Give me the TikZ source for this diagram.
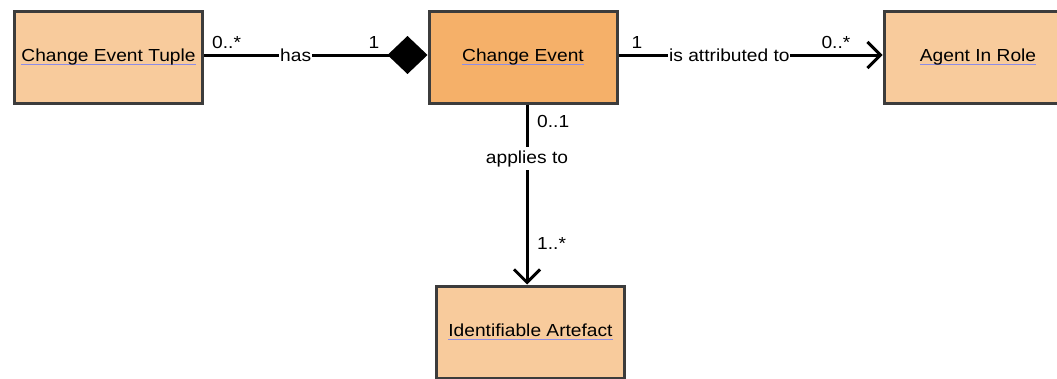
\documentclass[tikz,border=0pt]{standalone}
\usepackage{fontspec}
\setmainfont[FakeStretch=1.1]{Liberation Sans}
\usetikzlibrary{arrows.meta}
\usetikzlibrary{shapes}
\definecolor{classlight}{HTML}{F8CB9C}
\definecolor{classdark}{HTML}{F5B069}
\definecolor{classedge}{HTML}{3C3C3C}
\definecolor{ulblue}{HTML}{8C8CE6}
\newcommand{\ulname}[1]{\setbox0\hbox{#1}\rlap{\color{ulblue}\rule[-3.5bp]{\wd0}{1.3bp}}\box0}
\tikzset{
  umlclass/.style={draw=classedge,line width=3bp,fill=classlight,minimum width=188bp,minimum height=92bp,inner sep=0pt,font=\fontsize{17.5}{20}\selectfont},
  assoc/.style={draw=black,line width=3bp},
  mult/.style={inner sep=0pt,font=\fontsize{17.5}{20}\selectfont},
  rolename/.style={fill=white,inner sep=0.8bp,font=\fontsize{17.5}{20}\selectfont},
}
\begin{document}
\begin{tikzpicture}[>={Straight Barb[length=13bp,width=26bp]},line join=miter]
\useasboundingbox (0bp,0bp) rectangle (1057bp,-379bp);
\clip (0bp,0bp) rectangle (1057bp,-379bp);
%%
\node (tuple) at (108.5bp,-57bp) [umlclass] {\ulname{Change Event Tuple}};
  \node (event) at (523bp,-57bp) [umlclass,fill=classdark] {\ulname{Change Event}};
  \node (agent) at (978bp,-57bp) [umlclass] {\ulname{Agent In Role}};
  \node (artefact) at (530.5bp,-332bp) [umlclass] {\ulname{Identifiable Artefact}};
  \draw [assoc,-{Turned Square[length=40bp,width=38bp]}] ([yshift=2bp]tuple.east) -- node[rolename,pos=0.41] {has} ([yshift=2bp]event.west);
  \draw [assoc,->] ([yshift=2bp]event.east) -- node[rolename,pos=0.42] {is attributed to} ([yshift=2bp]agent.west);
  \draw [assoc,->] ([xshift=4bp]event.south) -- node[rolename,pos=0.3,inner sep=3bp] {applies to} ([xshift=4bp]event.south |- artefact.north);
  \node (m_tuple) at ([xshift=8bp,yshift=9bp]tuple.east) [mult,anchor=base west] {0..*};
  \node (m_has) at ([xshift=-48bp,yshift=9bp]event.west) [mult,anchor=base east] {1};
  \node (m_event) at ([xshift=13bp,yshift=9bp]event.east) [mult,anchor=base west] {1};
  \node (m_agent) at ([xshift=-32bp,yshift=9bp]agent.west) [mult,anchor=base east] {0..*};
  \node (m_applies) at ([xshift=14bp,yshift=-23bp]event.south) [mult,anchor=base west] {0..1};
  \node (m_artefact) at ([xshift=6.5bp,yshift=35bp]artefact.north) [mult,anchor=base west] {1..*};
%
\end{tikzpicture}
\end{document}
